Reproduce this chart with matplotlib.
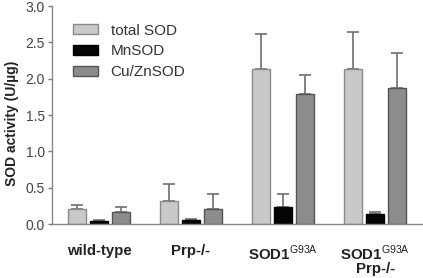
import matplotlib
matplotlib.use("Agg")
import matplotlib.pyplot as plt
import numpy as np

plt.rcParams["font.family"] = ["Liberation Sans", "DejaVu Sans"]
plt.rcParams["mathtext.fontset"] = "custom"
plt.rcParams["mathtext.rm"] = "Liberation Sans"

groups = ["wild-type", "Prp-/-", "SOD1$^{\\mathrm{G93A}}$", "SOD1$^{\\mathrm{G93A}}$\nPrp-/-"]
series = ["total SOD", "MnSOD", "Cu/ZnSOD"]
total_sod = [0.21, 0.32, 2.14, 2.13]
total_err = [0.05, 0.23, 0.47, 0.52]
mn_sod = [0.045, 0.06, 0.23, 0.145]
mn_err = [0.005, 0.01, 0.18, 0.015]
cuzn_sod = [0.17, 0.21, 1.79, 1.87]
cuzn_err = [0.06, 0.20, 0.26, 0.48]

fig = plt.figure(figsize=(4.23, 2.78), dpi=100)
ax = fig.add_axes([0.123, 0.194, 0.877, 0.784])

x = np.arange(len(groups))
w = 0.19
off = 0.24
fills = ["#c9c9c9", "#050505", "#8c8c8c"]
edges = ["#8a8a8a", "#000000", "#555555"]
vals = [total_sod, mn_sod, cuzn_sod]
errs = [total_err, mn_err, cuzn_err]
for i in range(3):
    xi = x + (i - 1) * off
    ax.bar(xi, vals[i], width=w, color=fills[i], edgecolor=edges[i], linewidth=1.0,
           label=series[i], zorder=2)
    ax.errorbar(xi, vals[i], yerr=[np.zeros(4), errs[i]], fmt="none", ecolor="#6e6e6e",
                elinewidth=1.2, capsize=4.5, capthick=1.2, zorder=1)

ax.set_xlim(-0.51, 3.52)
ax.set_ylim(0, 3.0)
ax.set_yticks([0, 0.5, 1.0, 1.5, 2.0, 2.5, 3.0])
ax.set_yticklabels(["0.0", "0.5", "1.0", "1.5", "2.0", "2.5", "3.0"])
ax.set_xticks(x)
ax.set_xticklabels(groups, fontweight="bold", fontsize=10.8, color="#222222", linespacing=0.95)
ax.tick_params(axis="x", length=0, pad=14)
ax.tick_params(axis="y", length=3, width=1, color="#777777", labelsize=10, labelcolor="#444444", pad=2)
for s in ["top", "right"]:
    ax.spines[s].set_visible(False)
for s in ["left", "bottom"]:
    ax.spines[s].set_color("#888888")
    ax.spines[s].set_linewidth(1.0)
ax.set_ylabel("SOD activity (U/\u00b5g)", fontweight="bold", fontsize=10, color="#222222")
ax.yaxis.set_label_coords(-0.09, 0.46)

leg = ax.legend(loc="upper left", bbox_to_anchor=(0.057, 0.92), frameon=False, fontsize=11,
                borderpad=0, borderaxespad=0,
                handlelength=1.6, handleheight=0.6, labelspacing=0.45, handletextpad=0.85,
                labelcolor="#333333")

fig.savefig("out.png", dpi=100)
